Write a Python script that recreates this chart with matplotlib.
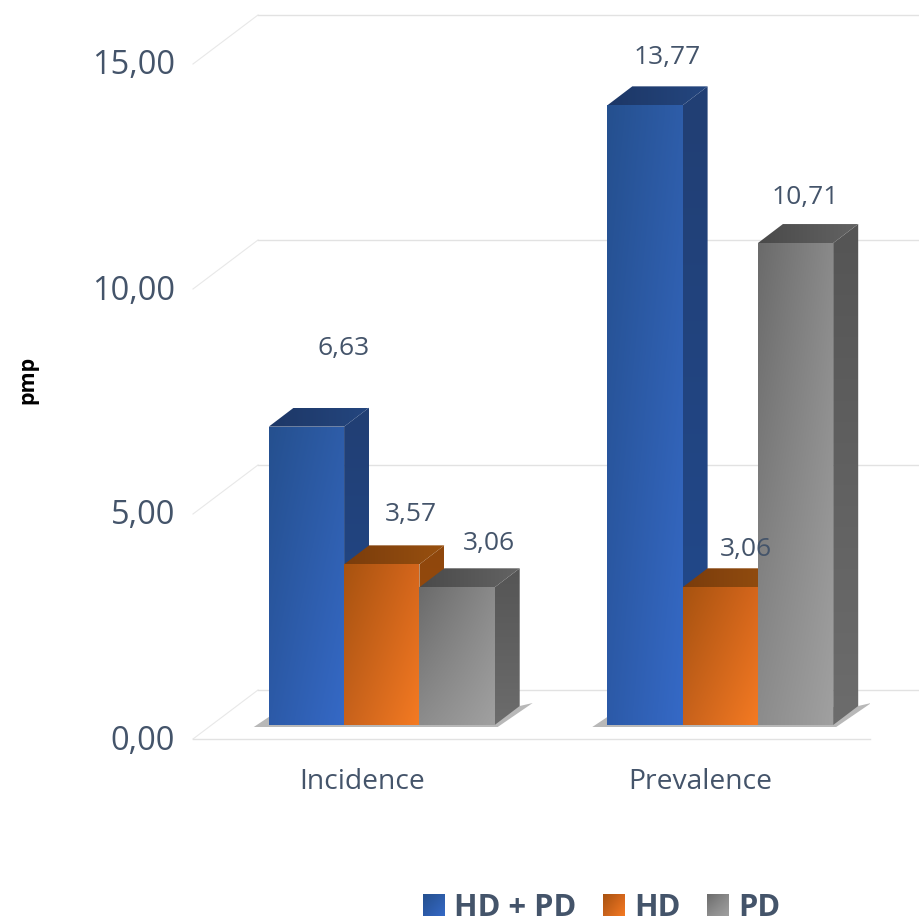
import matplotlib
matplotlib.use('Agg')
import matplotlib.pyplot as plt
import numpy as np
from matplotlib.colors import to_rgb
from matplotlib.image import BboxImage
from matplotlib.legend_handler import HandlerBase
from matplotlib.patches import Patch, Polygon
from matplotlib.transforms import Affine2D, Bbox, TransformedBbox

plt.rcParams['font.family'] = ['Open Sans', 'DejaVu Sans']

categories = ['Incidence', 'Prevalence']
series = ['HD + PD', 'HD', 'PD']
hd_pd = [6.63, 13.77]
hd = [3.57, 3.06]
pd_ = [3.06, 10.71]
y_ticks = [0, 5, 10, 15]
y_tick_labels = ['0,00', '5,00', '10,00', '15,00']

TEXT = '#44546a'
GRID = '#e2e2e2'
PX_X = 338.5  # pixels per category
PX_Y = 45.0   # pixels per unit of pmp
BAR_W = 75.3 / PX_X
DEPTH_X = 25
DEPTH_Y = 19

# corner colours: top left, top right, bottom left, bottom right
front_cols = [('#25508f', '#2e5da9', '#2c5aa8', '#3569c6'),
              ('#a85310', '#d5661c', '#c8621c', '#f47a22'),
              ('#6b6b6b', '#8a8a8a', '#8c8c8c', '#a0a0a0')]
top_cols = [('#1d3766', '#24467f', '#1d3766', '#24467f'),
            ('#7a3c0c', '#98500f', '#7a3c0c', '#98500f'),
            ('#4a4a4a', '#636363', '#4a4a4a', '#636363')]
side_cols = [('#213f74', '#213f74', '#224a8e', '#224a8e'),
             ('#8f470c', '#8f470c', '#a04f0d', '#a04f0d'),
             ('#555555', '#555555', '#6c6c6c', '#6c6c6c')]
# where each value label sits relative to the top of its bar, in pixels
label_shift = [[(37, 78), (29, 50), (32, 44)],
               [(22, 48), (26, 38), (10, 46)]]


def gradient(cols, n=32):
    tl, tr, bl, br = [np.array(to_rgb(c)) for c in cols]
    u, v = np.meshgrid(np.linspace(0, 1, n), np.linspace(0, 1, n))
    u = u[..., None]
    v = v[..., None]
    return (1 - v) * ((1 - u) * tl + u * tr) + v * ((1 - u) * bl + u * br)


def face(ax, xy, cols, trans, z):
    xy = np.array(xy)
    poly = Polygon(xy, closed=True, fc='none', ec='none', transform=trans, zorder=z)
    ax.add_patch(poly)
    im = ax.imshow(gradient(cols), extent=(xy[:, 0].min(), xy[:, 0].max(), xy[:, 1].min(), xy[:, 1].max()),
                   aspect='auto', interpolation='bilinear', transform=trans, zorder=z)
    im.set_clip_path(poly)


class GradHandler(HandlerBase):
    def create_artists(self, legend, orig, xd, yd, w, h, fontsize, trans):
        box = TransformedBbox(Bbox([[-xd, -yd], [w - xd, h - yd]]), trans)
        im = BboxImage(box, interpolation='bilinear')
        im.set_data(gradient(orig.grad_cols))
        return [im]


fig = plt.figure(figsize=(9.2, 9.24), dpi=100)
ax = fig.add_axes([193 / 920, (924 - 739) / 924, 677 / 920, 675 / 924])
ax.patch.set_visible(False)

# bars stand a little behind the front edge of the floor
bar_trans = ax.transData + Affine2D().translate(19.5, 14)
dx = DEPTH_X / PX_X
dy = DEPTH_Y / PX_Y

# floor and wall lines
wall_x = 65 / PX_X
wall_y = 49 / PX_Y
for t in y_ticks:
    ax.plot([-0.5, -0.5 + wall_x], [t, t + wall_y], color='#e8e8e8', lw=0.8, clip_on=False, zorder=0.5)
    ax.plot([-0.5 + wall_x, 1.65], [t + wall_y, t + wall_y], color=GRID, lw=1, clip_on=False, zorder=0.5)

z = 2
values = [hd_pd, hd, pd_]
for c in range(len(categories)):
    left = c - 1.5 * BAR_W
    right = left + 3 * BAR_W
    sh_x = 15 / PX_X
    ax.add_patch(Polygon([(left - sh_x, -2 / PX_Y), (left, 8 / PX_Y), (right + dx, dy), (right + dx + 13 / PX_X, dy + 3 / PX_Y),
                          (right + 3 / PX_X, -2 / PX_Y)], closed=True, fc='#9a9a9a', ec='none', alpha=0.7,
                         transform=bar_trans, zorder=1.5))
    for s in range(len(series)):
        v = values[s][c]
        x0 = left + s * BAR_W
        x1 = x0 + BAR_W
        face(ax, [(x1, 0), (x1 + dx, dy), (x1 + dx, v + dy), (x1, v)], side_cols[s], bar_trans, z)
        face(ax, [(x0, v), (x1, v), (x1 + dx, v + dy), (x0 + dx, v + dy)], top_cols[s], bar_trans, z + 0.1)
        face(ax, [(x0, 0), (x1, 0), (x1, v), (x0, v)], front_cols[s], bar_trans, z + 0.2)
        z += 1
        sx, sy = label_shift[c][s]
        ax.annotate(f'{v:.2f}'.replace('.', ','), xy=(x0 + BAR_W / 2, v), xycoords=bar_trans,
                    xytext=(sx, sy), textcoords='offset pixels', ha='center', va='center',
                    fontsize=19, color=TEXT, zorder=50)

ax.set_xlim(-0.5, 1.5)
ax.set_ylim(0, 15)
ax.set_xticks(range(len(categories)), categories, fontsize=20.3, color=TEXT)
ax.set_yticks(y_ticks, y_tick_labels, fontsize=23.5, color=TEXT)
ax.tick_params(axis='both', length=0)
ax.tick_params(axis='x', pad=21)
ax.tick_params(axis='y', pad=13)
for lab in ax.get_yticklabels():
    lab.set_transform(lab.get_transform() + Affine2D().translate(0, 2))
for side in ['top', 'right', 'left']:
    ax.spines[side].set_visible(False)
ax.spines['bottom'].set_color(GRID)
ax.spines['bottom'].set_linewidth(1)

ax.set_ylabel('pmp', fontsize=15.5, fontweight='bold', color='black')
ax.yaxis.set_label_coords((38 - 193) / 677, (739 - 380) / 675)

handles = []
for s, name in enumerate(series):
    h = Patch(label=name)
    h.grad_cols = front_cols[s]
    handles.append(h)
ax.legend(handles=handles, handler_map={Patch: GradHandler()}, ncol=3, frameon=False,
          loc='lower left', bbox_to_anchor=(423 / 920, 1 / 924), bbox_transform=fig.transFigure,
          prop={'size': 22.2, 'weight': 'bold'}, labelcolor=TEXT, borderpad=0, borderaxespad=0,
          handlelength=0.69, handleheight=0.69, handletextpad=0.33, columnspacing=0.85)

fig.savefig('out.png', dpi=100)
